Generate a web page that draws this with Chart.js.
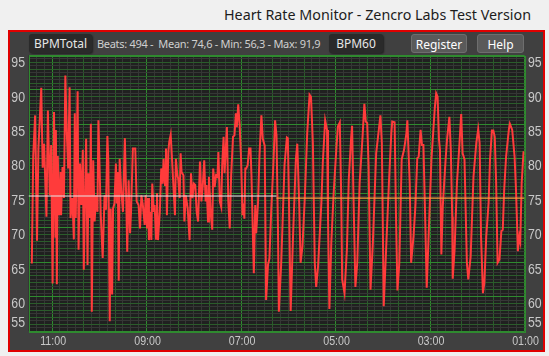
<!DOCTYPE html>
<html><head><meta charset="utf-8">
<script src="https://cdn.jsdelivr.net/npm/chart.js@4"></script>
<style>
html,body{margin:0;padding:0;width:549px;height:356px;overflow:hidden;background:#f0f0f0;font-family:"Noto Sans","Open Sans",sans-serif;}
#title{position:absolute;left:0;width:531px;top:5px;text-align:right;font-size:14.3px;color:#1c1c1c;white-space:nowrap;}
#panel{position:absolute;left:8px;top:30px;width:537px;height:322px;box-sizing:border-box;border:2px solid #e00000;background:#404040;}
.btn{position:absolute;top:34px;height:19px;line-height:19px;font-size:12px;text-align:center;color:#e6e6e6;border-radius:3px;box-sizing:border-box;white-space:nowrap;}
.dark{background:#2a2a2a;box-shadow:1px 1px 2px rgba(0,0,0,0.5);}
.light{background:#5a5a5a;border:1px solid #6e6e6e;color:#fff;}
#stats{position:absolute;left:97px;top:34px;height:19px;line-height:19px;font-size:11px;letter-spacing:-0.3px;color:#cfcfcf;white-space:pre;}
#chart{position:absolute;left:0;top:0;width:549px;height:356px;}
</style></head>
<body>
<div id="title">Heart Rate Monitor - Zencro Labs Test Version</div>
<div id="panel"></div>
<div class="btn dark" style="left:29px;width:63px">BPMTotal</div>
<div id="stats">Beats: 494 -  Mean: 74,6 - Min: 56,3 - Max: 91,9</div>
<div class="btn dark" style="left:329px;width:54px">BPM60</div>
<div class="btn light" style="left:411px;width:56px">Register</div>
<div class="btn light" style="left:477px;width:47px">Help</div>
<canvas id="chart" width="549" height="356"></canvas>
<script>
// time (minutes, as shown on the axis) of each vertex of the BPM trace
const times = [
 11.43,11.40,11.36,11.32,11.29,11.23,11.20,11.17,11.12,11.09,11.05,11.02,10.99,10.96,10.93,10.92,10.90,10.88,10.85,10.82,10.81,10.78,10.75,10.72,10.69,10.66,10.63,10.61,10.57,10.54,10.52,10.50,10.46,10.44,10.41,10.38,10.35,10.33,10.28,10.25,10.23,10.20,10.18,10.16,10.13,10.10,10.07,10.04,10.02,9.97,9.93,9.89,9.86,9.83,9.81,9.78,
 9.76,9.73,9.71,9.68,9.65,9.63,9.61,9.59,9.57,9.54,9.50,9.46,9.43,9.41,9.38,9.35,9.33,9.29,9.24,9.21,9.17,9.14,9.11,9.08,9.04,9.02,8.99,8.97,8.95,8.92,8.90,8.88,8.85,8.83,8.80,8.78,8.76,8.72,8.69,8.66,8.64,8.61,8.59,8.57,8.54,8.52,8.49,8.47,8.44,8.40,8.38,8.35,8.33,8.30,8.28,8.26,8.22,8.20,8.17,8.13,8.09,
 8.06,8.03,8.00,7.97,7.94,7.91,7.87,7.84,7.81,7.78,7.75,7.73,7.70,7.68,7.64,7.61,7.59,7.56,7.53,7.50,7.48,7.45,7.42,7.40,7.37,7.35,7.33,7.30,7.27,7.24,7.21,7.17,7.14,7.11,7.09,7.06,7.03,7.00,6.97,6.95,6.93,6.91,6.89,6.86,6.83,6.80,6.78,6.73,6.70,6.68,6.64,6.61,6.57,6.54,6.50,6.47,6.43,6.40,6.36,6.32,6.28,6.25,6.22,6.20,
 6.15,6.08,6.03,6.01,5.99,5.95,5.90,5.84,5.81,5.77,5.74,5.70,5.65,5.60,5.55,5.52,5.48,5.44,5.41,5.37,5.30,5.27,5.22,5.18,5.16,5.13,5.09,5.04,4.98,4.95,
 4.91,4.88,4.86,4.81,4.76,4.72,4.67,4.65,4.62,4.58,4.54,4.49,4.43,4.39,4.36,4.33,4.30,4.26,4.21,4.14,4.05,4.02,4.00,3.98,3.93,3.87,3.82,3.80,3.75,3.72,
 3.69,3.65,3.60,3.55,3.50,3.48,3.43,3.40,3.35,3.31,3.27,3.24,3.20,3.17,3.14,3.10,3.07,3.03,2.97,2.90,2.87,2.84,2.81,2.79,2.76,2.73,2.67,2.64,2.59,2.56,
 2.53,2.52,2.48,2.43,2.38,2.34,2.31,2.27,2.22,2.19,2.14,2.08,2.02,1.98,1.95,1.92,1.88,1.85,1.81,1.76,1.73,1.69,1.66,1.63,1.60,1.57,1.53,1.49,1.46,1.43,
 1.39,1.33,1.31,1.26,1.21,1.18,1.14,1.11,1.09,1.06,1.02
];
// heart rate (BPM) at each vertex
const bpm = [
 64.8,80.4,86.3,68.1,81.5,90.3,78.7,82.2,71.6,87.0,74.7,82.0,61.9,86.8,68.7,84.2,61.8,80.4,71.8,78.1,71.8,78.8,74.3,92.1,83.9,78.6,90.4,71.4,74.3,68.3,86.6,71.4,89.8,66.8,79.3,73.3,81.3,63.9,82.9,64.6,77.9,71.4,85.1,57.8,79.8,70.9,74.7,72.3,85.6,71.8,65.6,74.7,72.6,83.3,79.6,56.4,
 72.8,60.3,72.8,73.5,79.3,73.5,78.1,62.3,80.0,75.7,72.3,83.0,73.8,66.5,76.9,69.2,72.3,81.5,81.5,73.8,73.3,69.9,74.7,73.3,70.4,74.7,69.9,74.3,68.2,72.3,68.2,76.4,72.3,73.3,68.4,75.0,68.2,72.3,78.6,76.4,80.0,76.2,81.5,71.8,81.0,82.5,83.5,81.0,77.1,71.8,80.0,77.6,77.1,74.3,80.8,78.1,77.6,70.9,74.7,72.8,68.2,
 77.9,74.3,76.4,76.2,72.3,70.9,79.6,73.8,76.2,79.8,73.8,76.2,70.9,77.4,71.8,69.7,78.6,75.9,77.6,77.4,81.0,73.8,73.0,79.1,83.2,77.9,80.5,84.6,73.8,69.9,77.6,83.2,83.4,86.6,84.6,87.9,84.9,80.0,71.8,73.5,71.3,78.6,78.6,79.1,81.5,81.5,77.6,63.4,73.3,69.2,73.8,80.5,86.3,82.9,81.9,59.5,64.6,65.5,72.8,78.6,85.6,83.4,70.4,57.8,
 64.9,79.1,83.1,83.0,75.5,57.9,68.7,79.9,82.2,73.6,64.9,67.3,74.5,83.7,89.3,89.0,82.3,64.9,61.4,64.4,73.6,79.4,85.6,84.2,71.6,58.2,67.8,75.0,81.8,84.7,
 85.3,74.5,62.5,60.5,66.8,77.0,83.0,84.8,74.5,61.4,64.9,76.5,83.0,88.0,85.4,85.2,78.9,61.0,67.8,80.8,86.3,82.3,70.7,58.6,66.8,76.5,83.7,85.4,85.3,71.6,
 60.9,64.9,79.9,81.3,83.7,85.6,76.5,64.9,68.7,73.1,80.1,80.3,84.2,82.0,82.0,70.7,61.3,68.7,79.9,87.3,89.5,89.0,82.8,81.3,66.1,73.1,79.9,82.8,86.1,81.3,
 71.6,62.6,66.8,76.5,81.8,86.5,80.8,79.9,64.9,62.5,65.8,77.4,82.3,84.3,82.3,68.7,60.5,62.0,68.7,73.6,79.9,84.1,84.1,83.2,76.5,64.9,65.4,69.5,69.7,75.5,
 80.3,84.3,85.1,84.2,80.3,75.5,66.6,68.7,68.0,76.5,81.1
];
// mean lines: total mean (white) and BPM60 mean (orange)
const meanTotal = 74.6;
const meanTotalSpan = [11.5, 6.25];
const mean60 = 74.3;
const mean60Span = [6.25, 1.0];
// axis ticks
const xTickValues = [11, 9, 7, 5, 3, 1];
const xTickLabels = ['11:00', '09:00', '07:00', '05:00', '03:00', '01:00'];
const yTickValues = [95, 90, 85, 80, 75, 70, 65, 60, 55];
const yTickLabels = ['95', '90', '85', '80', '75', '70', '65', '60', '55'];
const xMin = 1, xMax = 11.5, yMin = 55, yMax = 95;

const BRIGHT = '#2f8a2f', MEDIUM = '#2b5c2b', DARK = '#353735';
const LABEL_FONT = '"Liberation Sans",Arial,sans-serif';
const NARROW_SCALE = 0.82;

function narrowText(ctx, text, px, py, align) {
  ctx.save();
  ctx.translate(px, py);
  ctx.scale(NARROW_SCALE, 1);
  ctx.textAlign = align;
  ctx.fillText(text, 0, 0);
  ctx.restore();
}

const panelPlugin = {
  id: 'panel',
  beforeDraw(chart) {
    const {ctx, chartArea: a} = chart;
    ctx.save();
    ctx.fillStyle = '#202020';
    ctx.fillRect(a.left, a.top, a.right - a.left, a.bottom - a.top);
    ctx.restore();
  },
  beforeDatasetsDraw(chart) {
    const {ctx, chartArea: a} = chart;
    ctx.save();
    ctx.strokeStyle = BRIGHT;
    ctx.lineWidth = 1;
    ctx.strokeRect(Math.round(a.left) + 0.5, Math.round(a.top) + 0.5, Math.round(a.right - a.left), Math.round(a.bottom - a.top));
    ctx.restore();
  },
  afterDraw(chart) {
    const {ctx, chartArea: a, scales: {x, y}} = chart;
    ctx.save();
    ctx.fillStyle = '#c8c8c8';
    ctx.textBaseline = 'middle';
    ctx.font = '15px ' + LABEL_FONT;
    yTickValues.forEach((v, i) => {
      const py = Math.min(y.getPixelForValue(v) + 7.5, a.bottom - 8);
      narrowText(ctx, yTickLabels[i], a.left - 3.5, py, 'right');
      narrowText(ctx, yTickLabels[i], a.right + 3.5, py, 'left');
    });
    ctx.font = '13px ' + LABEL_FONT;
    xTickValues.forEach((v, i) => {
      narrowText(ctx, xTickLabels[i], x.getPixelForValue(v) + 1, a.bottom + 10, 'center');
    });
    ctx.restore();
  }
};

new Chart(document.getElementById('chart'), {
  type: 'line',
  data: {
    datasets: [
      {label: 'Mean', data: meanTotalSpan.map(t => ({x: t, y: meanTotal})), borderColor: '#e8e8e8', borderWidth: 1.2, pointRadius: 0},
      {label: 'Mean BPM60', data: mean60Span.map(t => ({x: t, y: mean60})), borderColor: '#f2a23c', borderWidth: 1.2, pointRadius: 0},
      {label: 'BPM', data: times.map((t, i) => ({x: t, y: bpm[i]})), borderColor: '#ff3b3b', borderWidth: 2, pointRadius: 0, tension: 0, borderJoinStyle: 'miter'}
    ]
  },
  options: {
    responsive: false,
    animation: false,
    events: [],
    layout: {padding: {left: 28.5, top: 55.5, right: 549 - 524.5, bottom: 356 - 331}},
    plugins: {legend: {display: false}, tooltip: {enabled: false}},
    scales: {
      x: {
        type: 'linear', reverse: true, min: xMin, max: xMax,
        afterBuildTicks: s => { const t = []; for (let k = 0; k <= 63; k++) t.push({value: xMin + k / 6}); s.ticks = t; },
        ticks: {display: false},
        border: {display: false},
        grid: {drawTicks: false, lineWidth: 1, color: c => { const k = Math.round((c.tick.value - xMin) * 6); return k % 12 === 0 ? BRIGHT : (k % 4 === 0 ? MEDIUM : DARK); }}
      },
      y: {
        type: 'linear', min: yMin, max: yMax,
        afterBuildTicks: s => { const t = []; for (let k = 0; k <= 80; k++) t.push({value: yMin + k / 2}); s.ticks = t; },
        ticks: {display: false},
        border: {display: false},
        grid: {drawTicks: false, lineWidth: 1, color: c => { const k = Math.round((c.tick.value - yMin) * 2); return k % 10 === 0 ? BRIGHT : (k % 2 === 0 ? MEDIUM : DARK); }}
      }
    }
  },
  plugins: [panelPlugin]
});
</script>
</body></html>
